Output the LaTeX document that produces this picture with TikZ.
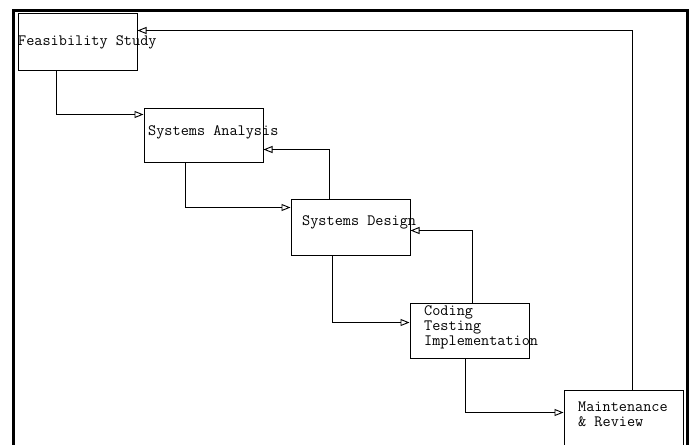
\documentclass[tikz,border=0pt]{standalone}
\usepackage{fontspec}
\usetikzlibrary{arrows.meta,calc}
\tikzset{
  stagebox/.style={draw=black, line width=1pt, inner sep=0pt, minimum width=119pt, fill=white},
  lbl/.style={font=\ttfamily\fontsize{15.8}{15}\selectfont, inner sep=0pt, anchor=west, align=left},
  conn/.style={draw=black, line width=0.9pt, -{Triangle[open, length=9pt, width=7pt]}},
  frameline/.style={draw=black, line width=3pt}
}
\begin{document}
\begin{tikzpicture}[x=1pt,y=-1pt]
\clip (0,0) rectangle (695,444);
\fill[white] (0,0) rectangle (695,444);
% outer frame
\coordinate (fbl) at (13.5,460);
\coordinate (ftl) at (13.5,10.5);
\coordinate (ftr) at (687,10.5);
\coordinate (fbr) at (687,460);
\draw[frameline] (fbl) -- (ftl) -- (ftr) -- (fbr);
% boxes
\node[stagebox, minimum height=56pt] (fs) at (77.5,42) {};
\node[stagebox, minimum height=54pt] (sa) at (203.5,135) {};
\node[stagebox, minimum height=56pt] (sd) at (350.5,227) {};
\node[stagebox, minimum height=55pt] (ct) at (469.5,330.5) {};
\node[stagebox, minimum height=56pt] (mr) at (623.5,418) {};
% connectors
\draw[conn] ($(fs.south west)+(39,0)$) |- ($(sa.north west)+(0,7)$);
\draw[conn] ($(sa.south west)+(42,0)$) |- ($(sd.north west)+(0,9)$);
\draw[conn] ($(sd.north west)+(39,0)$) |- ($(sa.north east)+(0,42)$);
\draw[conn] ($(sd.south west)+(42,0)$) |- ($(ct.north west)+(0,20)$);
\draw[conn] ($(ct.north west)+(63,0)$) |- ($(sd.north east)+(0,32)$);
\draw[conn] ($(ct.south west)+(56,0)$) |- ($(mr.north west)+(0,23)$);
\draw[conn] ($(mr.north west)+(69,0)$) |- ($(fs.north east)+(0,17)$);
% labels
\node[lbl] (fst) at (18,42) {Feasibility Study};
\node[lbl] (sat) at (148,132) {Systems Analysis};
\node[lbl] (sdt) at (302,222) {Systems Design};
\node[lbl] (ctt) at (424,327) {Coding\\Testing\\Implementation};
\node[lbl] (mrt) at (578,414) {Maintenance\\\& Review};
\end{tikzpicture}
\end{document}
